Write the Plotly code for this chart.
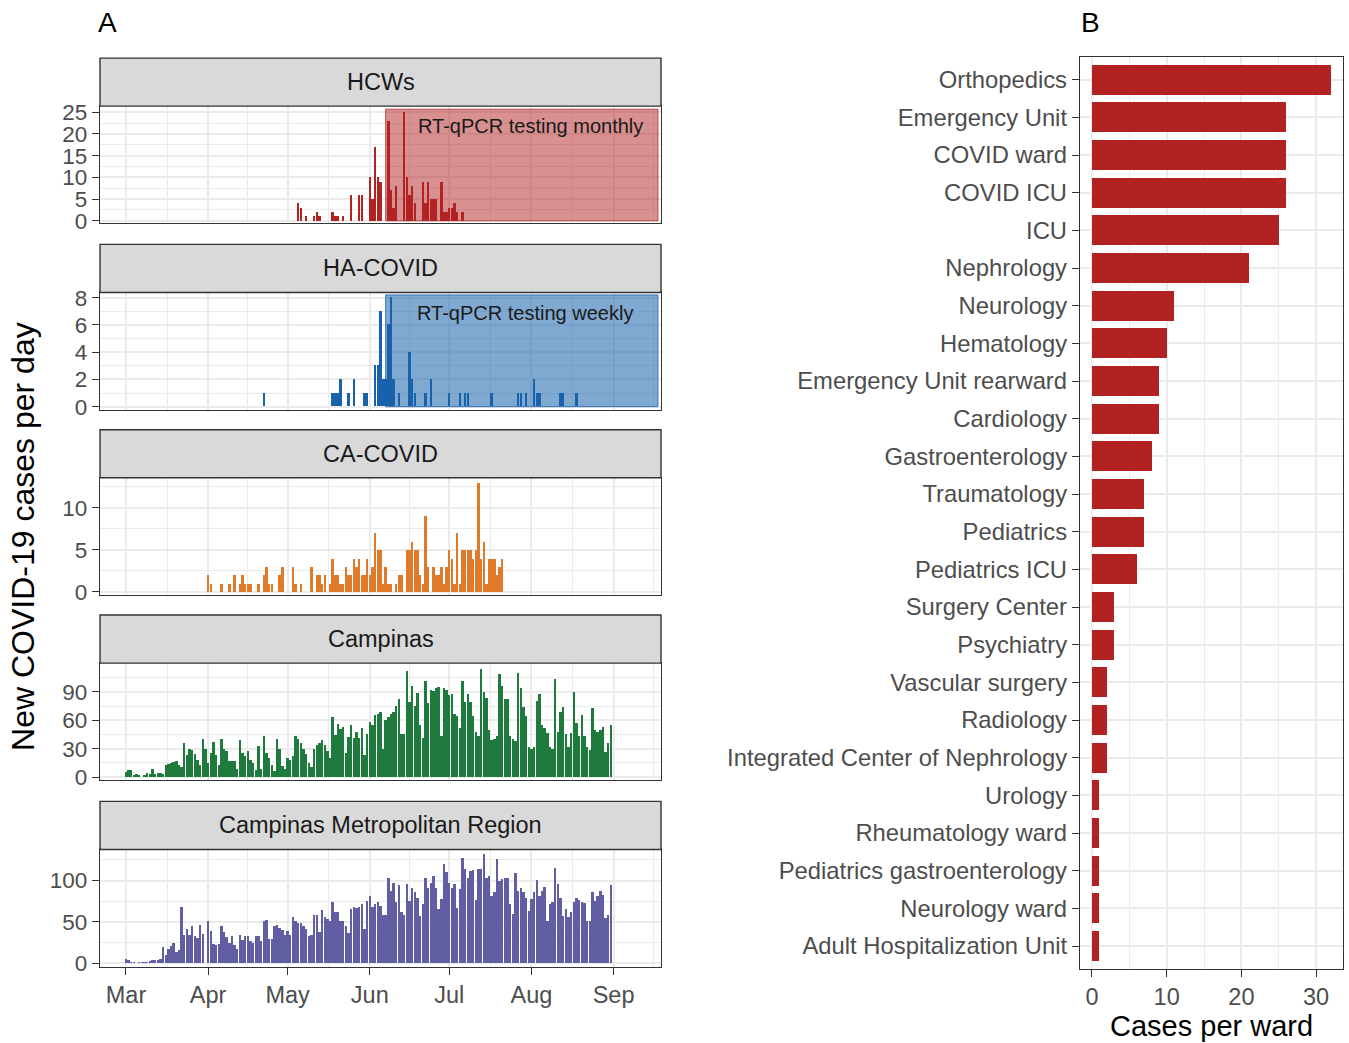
import plotly.graph_objects as go
import pandas as pd

W, H = 1349, 1043
FONT = "Liberation Sans, Arial, Helvetica, sans-serif"
GRID = "#EBEBEB"
DARK = "#333333"
TICKTXT = "#4D4D4D"

# ---------------- daily case series ----------------
hcw_dates = ["2020-05-05", "2020-05-06", "2020-05-08", "2020-05-11", "2020-05-12", "2020-05-13",
             "2020-05-18", "2020-05-19", "2020-05-20", "2020-05-22", "2020-05-25", "2020-05-28",
             "2020-05-29", "2020-06-01", "2020-06-02", "2020-06-03", "2020-06-04", "2020-06-05",
             "2020-06-08", "2020-06-09", "2020-06-10", "2020-06-11", "2020-06-14", "2020-06-15",
             "2020-06-16", "2020-06-17", "2020-06-18", "2020-06-21", "2020-06-22", "2020-06-23",
             "2020-06-24", "2020-06-25", "2020-06-26", "2020-06-28", "2020-06-29", "2020-06-30",
             "2020-07-01", "2020-07-02", "2020-07-03", "2020-07-04", "2020-07-06"]
hcw_cases = [4, 3, 1, 1, 2, 1,
             2, 1, 1, 1, 6, 6,
             6, 10, 5, 17, 10, 9,
             23, 7, 3, 8, 25, 10,
             6, 8, 4, 9, 4, 9,
             5, 5, 5, 9, 2, 2,
             3, 3, 4, 2, 2]

ha_dates = ["2020-04-22", "2020-05-18", "2020-05-19", "2020-05-20", "2020-05-21", "2020-05-24",
            "2020-05-26", "2020-05-30", "2020-05-31", "2020-06-03", "2020-06-04", "2020-06-05",
            "2020-06-06", "2020-06-07", "2020-06-08", "2020-06-09", "2020-06-10", "2020-06-12",
            "2020-06-16", "2020-06-17", "2020-06-18", "2020-06-22", "2020-06-24", "2020-07-01",
            "2020-07-05", "2020-07-07", "2020-07-08", "2020-07-17", "2020-07-27", "2020-07-28",
            "2020-07-30", "2020-08-02", "2020-08-03", "2020-08-04", "2020-08-12", "2020-08-13",
            "2020-08-18"]
ha_cases = [1, 1, 1, 1, 2, 1,
            2, 1, 1, 3, 3, 7,
            2, 2, 6, 8, 2, 1,
            4, 2, 1, 1, 2, 1,
            1, 1, 1, 1, 1, 1,
            1, 2, 1, 1, 1, 1,
            1]

ca_start = "2020-04-01"
ca_cases = [2, 1, 0, 0, 0, 1, 0, 0, 1, 0,
            2, 0, 1, 2, 1, 1, 1, 0, 0, 1,
            0, 2, 3, 1, 1, 0, 0, 2, 3, 0,
            0, 0, 3, 1, 0, 1, 0, 0, 0, 3,
            0, 2, 2, 1, 2, 0, 1, 4, 2, 2,
            1, 1, 3, 2, 2, 4, 3, 4, 2, 2,
            4, 2, 3, 7, 5, 5, 1, 3, 1, 1,
            0, 1, 2, 2, 0, 5, 5, 6, 5, 5,
            2, 1, 9, 3, 0, 3, 2, 2, 3, 1,
            3, 5, 4, 1, 7, 1, 5, 5, 5, 5,
            4, 5, 13, 4, 6, 1, 4, 4, 4, 2,
            3, 4]

campinas_start = "2020-03-01"
campinas_cases = [5, 7, 7, 1, 3, 1, 0, 1, 4, 3,
                  8, 3, 4, 4, 3, 13, 14, 15, 16, 17,
                  13, 10, 36, 23, 29, 28, 24, 18, 13, 40,
                  30, 15, 25, 37, 23, 13, 40, 29, 27, 17,
                  17, 17, 8, 39, 25, 22, 27, 18, 15, 7,
                  33, 8, 43, 25, 20, 13, 6, 40, 29, 12,
                  8, 20, 18, 22, 43, 40, 36, 30, 24, 15,
                  10, 30, 34, 36, 39, 34, 27, 20, 63, 44,
                  56, 51, 53, 25, 42, 55, 41, 48, 41,
                  52, 23, 45, 58, 55, 65, 67, 69, 29, 60,
                  63, 67, 69, 75, 82, 45, 45, 112, 79, 96,
                  75, 89, 55, 41, 101, 78, 92, 91, 94, 95,
                  43, 94, 92, 87, 88, 67, 64, 52, 101, 79,
                  88, 79, 64, 48, 43, 114, 90, 83, 50, 39,
                  40, 43, 109, 96, 82, 82, 43, 40, 38, 110,
                  94, 74, 64, 32, 30, 32, 80, 88, 55, 52,
                  46, 32, 30, 104, 48, 69, 74, 45, 32, 46,
                  90, 57, 43, 66, 43, 32, 28, 73, 50, 48,
                  50, 53, 26, 36, 55]

metro_start = "2020-03-01"
metro_cases = [5, 3, 1, 1, 0, 1, 1, 1, 1, 2,
               3, 3, 3, 5, 19, 10, 17, 21, 24, 13,
               15, 68, 34, 41, 34, 44, 32, 30, 46, 35,
               0, 50, 39, 23, 22, 23, 45, 37, 31, 24,
               32, 22, 17, 34, 28, 32, 32, 27, 24, 32,
               32, 27, 50, 52, 29, 29, 44, 46, 42, 40,
               34, 38, 34, 55, 51, 48, 48, 45, 41, 32,
               34, 58, 58, 37, 64, 55, 53, 50, 74, 62,
               62, 51, 50, 44, 36, 65, 67, 66, 68,
               71, 41, 75, 81, 68, 71, 73, 69, 58, 58,
               103, 87, 97, 74, 94, 62, 58, 95, 75, 90,
               85, 78, 57, 71, 103, 90, 97, 105, 91, 65,
               77, 120, 110, 97, 91, 95, 66, 89, 127, 113,
               103, 111, 112, 76, 113, 113, 132, 102, 105, 81,
               85, 125, 99, 101, 102, 102, 71, 59, 108, 87,
               91, 85, 78, 63, 77, 86, 100, 81, 87, 92,
               50, 71, 74, 115, 95, 78, 57, 65, 55, 62,
               74, 78, 76, 74, 72, 51, 51, 86, 75, 81,
               87, 82, 54, 58, 94]

# ---------------- cases per ward ----------------
wards = ["Orthopedics", "Emergency Unit", "COVID ward", "COVID ICU", "ICU", "Nephrology",
         "Neurology", "Hematology", "Emergency Unit rearward", "Cardiology", "Gastroenterology",
         "Traumatology", "Pediatrics", "Pediatrics ICU", "Surgery Center", "Psychiatry",
         "Vascular surgery", "Radiology", "Integrated Center of Nephrology", "Urology",
         "Rheumatology ward", "Pediatrics gastroenterology", "Neurology ward",
         "Adult Hospitalization Unit"]
ward_cases = [32, 26, 26, 26, 25, 21, 11, 10, 9, 9, 8, 7, 7, 6, 3, 3, 2, 2, 2, 1, 1, 1, 1, 1]

# ---------------- axis labels ----------------
month_ticks = ["2020-03-01", "2020-04-01", "2020-05-01", "2020-06-01",
               "2020-07-01", "2020-08-01", "2020-09-01"]
month_labels = ["Mar", "Apr", "May", "Jun", "Jul", "Aug", "Sep"]
mid_month = ["2020-03-16 12:00", "2020-04-16", "2020-05-16 12:00", "2020-06-16",
             "2020-07-16 12:00", "2020-08-16 12:00", "2020-09-16"]
ward_ticks = [0, 10, 20, 30]


def daily(start, values):
    return pd.date_range(start, periods=len(values), freq="D")


# page viewport: vertical offset and scale of the rendered page
PAGE_DY, PAGE_SY = 7.0, 0.982


def xfrac(px):
    return px / W


def yfrac(px):
    return 1 - ((px - PAGE_DY) / PAGE_SY) / H


DAY_MS = 86400000
X_RANGE = ["2020-02-20 04:48", "2020-09-18 21:36"]
BORDER_W = 1.4
GRID_W, MINOR_W = 1.9, 1.2

panels = [
    dict(name="HCWs", x=pd.to_datetime(hcw_dates), y=hcw_cases, color="#B22222",
         top=106, ticks=[0, 5, 10, 15, 20, 25], minor=[2.5, 7.5, 12.5, 17.5, 22.5],
         yr=[-0.6, 26.4]),
    dict(name="HA-COVID", x=pd.to_datetime(ha_dates), y=ha_cases, color="#1862AC",
         top=292, ticks=[0, 2, 4, 6, 8], minor=[1, 3, 5, 7], yr=[-0.22, 8.38]),
    dict(name="CA-COVID", x=daily(ca_start, ca_cases), y=ca_cases, color="#DF7A2B",
         top=477, ticks=[0, 5, 10], minor=[2.5, 7.5, 12.5], yr=[-0.36, 13.57]),
    dict(name="Campinas", x=daily(campinas_start, campinas_cases), y=campinas_cases,
         color="#1F7A3D", top=662, ticks=[0, 30, 60, 90], minor=[15, 45, 75, 105],
         yr=[-3.5, 120.5]),
    dict(name="Campinas Metropolitan Region", x=daily(metro_start, metro_cases), y=metro_cases,
         color="#615EA3", top=848, ticks=[0, 50, 100], minor=[25, 75, 125], yr=[-4.0, 137.5]),
]
PANEL_H = 117
STRIP_H = 48
LEFT, RIGHT = 100, 661

fig = go.Figure()
layout = dict(
    width=W, height=H, margin=dict(l=0, r=0, t=0, b=0),
    paper_bgcolor="white", plot_bgcolor="white", showlegend=False,
    font=dict(family=FONT, color=TICKTXT, size=23),
    bargap=0,
)
shapes, annotations = [], []

for i, p in enumerate(panels):
    n = i + 1
    xa, ya = f"x{n}" if n > 1 else "x", f"y{n}" if n > 1 else "y"
    bottom = p["top"] + PANEL_H
    last = i == len(panels) - 1
    fig.add_trace(go.Bar(x=p["x"], y=p["y"], width=0.9 * DAY_MS,
                         marker=dict(color=p["color"], line=dict(width=0)),
                         xaxis=xa, yaxis=ya, hoverinfo="x+y"))
    layout[f"xaxis{n if n > 1 else ''}"] = dict(
        type="date", range=X_RANGE, domain=[xfrac(LEFT), xfrac(RIGHT)], anchor=ya,
        tickmode="array", tickvals=month_ticks, ticktext=month_labels,
        showticklabels=last, ticks="outside" if last else "", ticklen=7, tickwidth=BORDER_W,
        tickcolor=DARK, tickfont=dict(size=23.5, color=TICKTXT),
        showgrid=True, gridcolor=GRID, gridwidth=GRID_W,
        minor=dict(tickmode="array", tickvals=mid_month, showgrid=True,
                   gridcolor=GRID, gridwidth=MINOR_W),
        showline=True, mirror=True, linecolor=DARK, linewidth=BORDER_W, zeroline=False,
    )
    layout[f"yaxis{n if n > 1 else ''}"] = dict(
        range=p["yr"], domain=[yfrac(bottom), yfrac(p["top"])], anchor=xa,
        tickmode="array", tickvals=p["ticks"], ticks="outside", ticklen=7, tickwidth=BORDER_W,
        tickcolor=DARK, tickfont=dict(size=22.5, color=TICKTXT),
        showgrid=True, gridcolor=GRID, gridwidth=GRID_W,
        minor=dict(tickmode="array", tickvals=p["minor"], showgrid=True,
                   gridcolor=GRID, gridwidth=MINOR_W),
        showline=True, mirror=True, linecolor=DARK, linewidth=BORDER_W, zeroline=False,
    )
    # facet strip
    shapes.append(dict(type="rect", xref="paper", yref="paper",
                       x0=xfrac(LEFT), x1=xfrac(RIGHT),
                       y0=yfrac(p["top"]), y1=yfrac(p["top"] - STRIP_H),
                       fillcolor="#D9D9D9", line=dict(color=DARK, width=BORDER_W)))
    annotations.append(dict(text=p["name"], xref="paper", yref="paper",
                            x=xfrac((LEFT + RIGHT) / 2), y=yfrac(p["top"] - STRIP_H / 2),
                            showarrow=False, font=dict(size=23.5, color="#1A1A1A"),
                            xanchor="center", yanchor="middle"))

# testing-period bands
bands = [
    ("x", "y", 25.7, "rgba(178,34,34,0.5)", "rgba(178,34,34,0.75)",
     "RT-qPCR testing monthly", 530, 126),
    ("x2", "y2", 8.2, "rgba(24,98,172,0.55)", "rgba(24,98,172,0.8)",
     "RT-qPCR testing weekly", 525, 312),
]
for xa, ya, top, fill, edge, label, lx, ly in bands:
    shapes.append(dict(type="rect", xref=xa, yref=ya, x0="2020-06-07", x1="2020-09-17 18:00",
                       y0=0, y1=top, fillcolor=fill, line=dict(color=edge, width=1),
                       layer="between"))
    annotations.append(dict(text=label, xref="paper", yref="paper", x=xfrac(lx), y=yfrac(ly),
                            showarrow=False, font=dict(size=20, color="#1A1A1A"),
                            xanchor="center", yanchor="middle"))

# cases per ward
fig.add_trace(go.Bar(x=ward_cases, y=wards, orientation="h", width=0.8,
                     marker=dict(color="#B22222", line=dict(width=0)),
                     xaxis="x6", yaxis="y6", hoverinfo="x+y"))
layout["xaxis6"] = dict(
    range=[-1.6, 33.6], domain=[xfrac(1080), xfrac(1343)], anchor="y6",
    tickmode="array", tickvals=ward_ticks, ticks="outside", ticklen=7, tickwidth=BORDER_W,
    tickcolor=DARK, tickfont=dict(size=23.5, color=TICKTXT),
    showgrid=True, gridcolor=GRID, gridwidth=GRID_W,
    minor=dict(tickmode="array", tickvals=[5, 15, 25], showgrid=True, gridcolor=GRID,
               gridwidth=MINOR_W),
    showline=True, mirror=True, linecolor=DARK, linewidth=BORDER_W, zeroline=False,
)
layout["yaxis6"] = dict(
    type="category", categoryorder="array", categoryarray=wards,
    range=[len(wards) - 0.4, -0.6], domain=[yfrac(967), yfrac(57)], anchor="x6",
    ticks="outside", ticklen=7, tickwidth=BORDER_W, tickcolor=DARK,
    tickfont=dict(size=23.8, color=TICKTXT),
    showgrid=True, gridcolor=GRID, gridwidth=GRID_W,
    showline=True, mirror=True, linecolor=DARK, linewidth=BORDER_W, zeroline=False,
)

annotations += [
    dict(text="Cases per ward", xref="paper", yref="paper", x=xfrac(1211.5), y=yfrac(1024),
         showarrow=False, font=dict(size=29, color="black"), xanchor="center", yanchor="middle"),
    dict(text="New COVID-19 cases per day", xref="paper", yref="paper", x=xfrac(23),
         y=yfrac(536), textangle=-90, showarrow=False, font=dict(size=32, color="black"),
         xanchor="center", yanchor="middle"),
    dict(text="A", xref="paper", yref="paper", x=xfrac(108), y=yfrac(22), showarrow=False,
         font=dict(size=28, color="black"), xanchor="center", yanchor="middle"),
    dict(text="B", xref="paper", yref="paper", x=xfrac(1090), y=yfrac(22), showarrow=False,
         font=dict(size=28, color="black"), xanchor="center", yanchor="middle"),
]

layout["shapes"] = shapes
layout["annotations"] = annotations
fig.update_layout(**layout)
fig.write_html("out.html", config={"displayModeBar": False})
